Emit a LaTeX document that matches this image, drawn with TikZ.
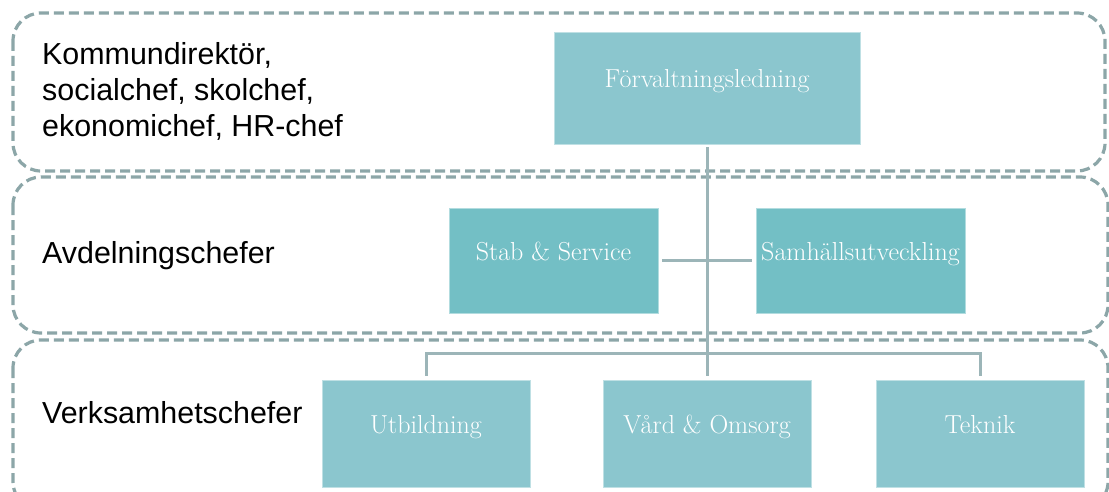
\documentclass[tikz,border=0pt]{standalone}
\usepackage{fontspec}
\newfontfamily\labfont{Liberation Sans}
\definecolor{bandc}{HTML}{8CA6A8}
\definecolor{linec}{HTML}{9CB5B8}
\definecolor{boxA}{HTML}{8BC6CE}
\definecolor{boxB}{HTML}{73BFC5}
\begin{document}
\begin{tikzpicture}[x=1pt,y=-1pt,
  band/.style={draw=bandc, line width=3.2pt, dash pattern=on 10pt off 5pt, rounded corners=28pt},
  orgbox/.style={draw=white!45!#1, fill=#1, line width=0.8pt, inner sep=0pt,
    text=white, font=\fontsize{26}{30}\selectfont, text height=16pt, text depth=16pt},
  conn/.style={draw=linec, line width=3pt},
  lab/.style={inner sep=0pt, text=black, font=\labfont\fontsize{30.4}{36}\selectfont}]
\useasboundingbox (0,0) rectangle (1109,492);
\fill[white] (0,0) rectangle (1109,492);
% bands
\draw[band] (13,13) rectangle (1105,171);
\draw[band] (13,177) rectangle (1108,333);
\draw[band] (13,340) rectangle (1108,510);
% boxes
\node[orgbox=boxA, minimum width=306pt, minimum height=112pt] (forv) at (707,88) {Förvaltningsledning};
\node[orgbox=boxB, minimum width=209pt, minimum height=105pt] (stab) at (553.5,260.5) {Stab \& Service};
\node[orgbox=boxB, minimum width=209pt, minimum height=105pt] (samh) at (860.5,260.5) {Samhällsutveckling};
\node[orgbox=boxA, minimum width=208pt, minimum height=107pt] (utb) at (426,433.5) {Utbildning};
\node[orgbox=boxA, minimum width=208pt, minimum height=107pt] (vard) at (707,433.5) {Vård \& Omsorg};
\node[orgbox=boxA, minimum width=208pt, minimum height=107pt] (tek) at (980,433.5) {Teknik};
% connectors
\coordinate (bar) at (707,353);
\draw[conn, shorten <=3pt, shorten >=4pt] (forv.south) -- (vard.north);
\draw[conn, shorten <=4pt, shorten >=4pt] (stab.east) -- (samh.west);
\draw[conn] ([yshift=4pt]utb.north) |- (bar) -| ([yshift=4pt]tek.north);
% labels
\node[lab, anchor=north west, align=left] (k) at (42,42) {Kommundirektör,\\socialchef, skolchef,\\ekonomichef, HR-chef};
\node[lab, anchor=base west] (avd) at (42,263) {Avdelningschefer};
\node[lab, anchor=base west] (verk) at (42,423) {Verksamhetschefer};
\end{tikzpicture}
\end{document}
